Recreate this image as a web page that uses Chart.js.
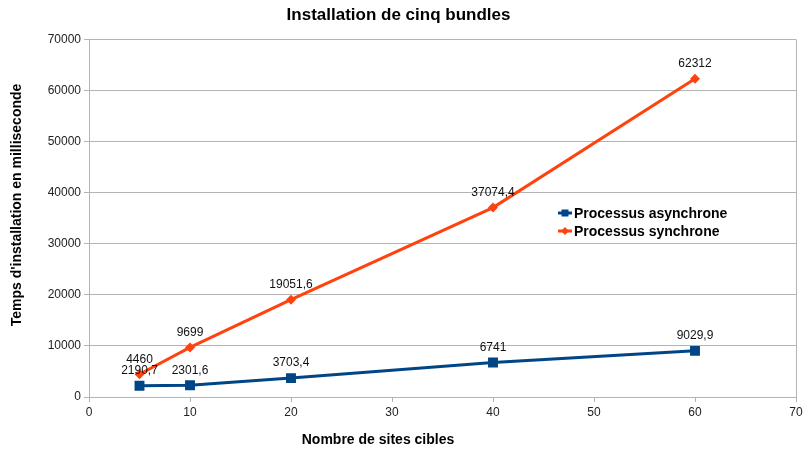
<!DOCTYPE html>
<html>
<head>
<meta charset="utf-8">
<script src="https://cdn.jsdelivr.net/npm/chart.js@4/dist/chart.umd.min.js"></script>
<style>
html,body{margin:0;padding:0;background:#fff;}
#wrap{width:803px;height:455px;position:relative;}
</style>
</head>
<body>
<div id="wrap"><canvas id="c"></canvas></div>
<script>
const sites = [5, 10, 20, 40, 60];
const asyncValues = [2190.7, 2301.6, 3703.4, 6741, 9029.9];
const syncValues = [4460, 9699, 19051.6, 37074.4, 62312];
const seriesNames = ['Processus asynchrone', 'Processus synchrone'];
const xTicks = [0, 10, 20, 30, 40, 50, 60, 70];
const yTicks = [0, 10000, 20000, 30000, 40000, 50000, 60000, 70000];
const chartTitle = 'Installation de cinq bundles';
const xTitle = 'Nombre de sites cibles';
const yTitle = "Temps d'installation en milliseconde";

const FONT = '"Liberation Sans", Arial, sans-serif';
const BLUE = '#004586';
const ORANGE = '#ff420e';

const labelsPlugin = {
  id: 'valueLabels',
  afterDatasetsDraw(chart) {
    const ctx = chart.ctx;
    ctx.save();
    ctx.font = '12px ' + FONT;
    ctx.fillStyle = '#111';
    ctx.textAlign = 'center';
    ctx.textBaseline = 'middle';
    chart.data.datasets.forEach((ds, i) => {
      const meta = chart.getDatasetMeta(i);
      meta.data.forEach((pt, j) => {
        const v = ds.data[j].y;
        ctx.fillText(String(v).replace('.', ','), pt.x, pt.y - 15);
      });
    });
    ctx.restore();
  }
};

const borderPlugin = {
  id: 'rightBorder',
  beforeDatasetsDraw(chart) {
    const a = chart.chartArea, ctx = chart.ctx;
    ctx.save();
    ctx.strokeStyle = '#b3b3b3';
    ctx.lineWidth = 1;
    ctx.beginPath();
    ctx.moveTo(Math.round(a.right) + 0.5, a.top);
    ctx.lineTo(Math.round(a.right) + 0.5, a.bottom);
    ctx.stroke();
    ctx.restore();
  }
};

const axisTitlesPlugin = {
  id: 'axisTitles',
  afterDraw(chart) {
    const ctx = chart.ctx;
    ctx.save();
    ctx.fillStyle = '#000';
    ctx.font = 'bold 14px ' + FONT;
    ctx.textAlign = 'center';
    ctx.textBaseline = 'middle';
    ctx.fillText(xTitle, 378, 440);
    ctx.translate(17, 205);
    ctx.rotate(-Math.PI / 2);
    ctx.fillText(yTitle, 0, 0);
    ctx.restore();
  }
};

const legendPlugin = {
  id: 'customLegend',
  afterDraw(chart) {
    const ctx = chart.ctx;
    const x0 = 558, ys = [213, 231];
    ctx.save();
    chart.data.datasets.forEach((ds, i) => {
      const y = ys[i];
      ctx.strokeStyle = ds.borderColor;
      ctx.lineWidth = 3;
      ctx.beginPath();
      ctx.moveTo(x0, y);
      ctx.lineTo(x0 + 14, y);
      ctx.stroke();
      ctx.fillStyle = ds.borderColor;
      ctx.beginPath();
      if (i === 0) {
        ctx.rect(x0 + 3.5, y - 3.5, 7, 7);
      } else {
        ctx.moveTo(x0 + 7, y - 4);
        ctx.lineTo(x0 + 11, y);
        ctx.lineTo(x0 + 7, y + 4);
        ctx.lineTo(x0 + 3, y);
        ctx.closePath();
      }
      ctx.fill();
      ctx.fillStyle = '#000';
      ctx.font = 'bold 14px ' + FONT;
      ctx.textAlign = 'left';
      ctx.textBaseline = 'middle';
      ctx.fillText(ds.label, x0 + 16, y + 1);
    });
    ctx.restore();
  }
};

new Chart(document.getElementById('c'), {
  type: 'line',
  data: {
    datasets: [
      {
        label: seriesNames[0],
        data: sites.map((s, i) => ({x: s, y: asyncValues[i]})),
        borderColor: BLUE,
        backgroundColor: BLUE,
        borderWidth: 3,
        pointStyle: 'rect',
        pointRadius: 7,
        pointHoverRadius: 7,
        pointBorderWidth: 0,
        tension: 0
      },
      {
        label: seriesNames[1],
        data: sites.map((s, i) => ({x: s, y: syncValues[i]})),
        borderColor: ORANGE,
        backgroundColor: ORANGE,
        borderWidth: 3,
        pointStyle: 'rectRot',
        pointRadius: 5,
        pointHoverRadius: 5,
        pointBorderWidth: 0,
        tension: 0
      }
    ]
  },
  options: {
    responsive: true,
    maintainAspectRatio: false,
    animation: false,
    layout: {padding: {left: 0, right: 6, top: 0, bottom: 0}},
    plugins: {
      legend: {display: false},
      tooltip: {enabled: false},
      title: {
        display: true,
        text: chartTitle,
        color: '#000',
        font: {family: FONT, size: 17, weight: 'bold'},
        padding: {top: 5, bottom: 14}
      }
    },
    scales: {
      x: {
        type: 'linear',
        min: 0, max: 70,
        afterBuildTicks(s) { s.ticks = xTicks.map(v => ({value: v})); },
        afterFit(s) { s.height = 58; s.paddingRight = 0; s.paddingLeft = 0; },
        grid: {drawOnChartArea: false, drawTicks: true, tickLength: 5, color: '#b3b3b3'},
        border: {color: '#b3b3b3'},
        ticks: {color: '#222', font: {family: FONT, size: 12}, padding: 3, callback: v => String(v)},
        title: {display: false}
      },
      y: {
        type: 'linear',
        min: 0, max: 70000,
        afterBuildTicks(s) { s.ticks = yTicks.map(v => ({value: v})); },
        afterFit(s) { s.width = 89; },
        grid: {color: '#b3b3b3', tickLength: 5},
        border: {color: '#b3b3b3'},
        ticks: {color: '#222', font: {family: FONT, size: 12}, padding: 3, callback: v => String(v)},
        title: {display: false}
      }
    }
  },
  plugins: [labelsPlugin, borderPlugin, axisTitlesPlugin, legendPlugin]
});
</script>
</body>
</html>
